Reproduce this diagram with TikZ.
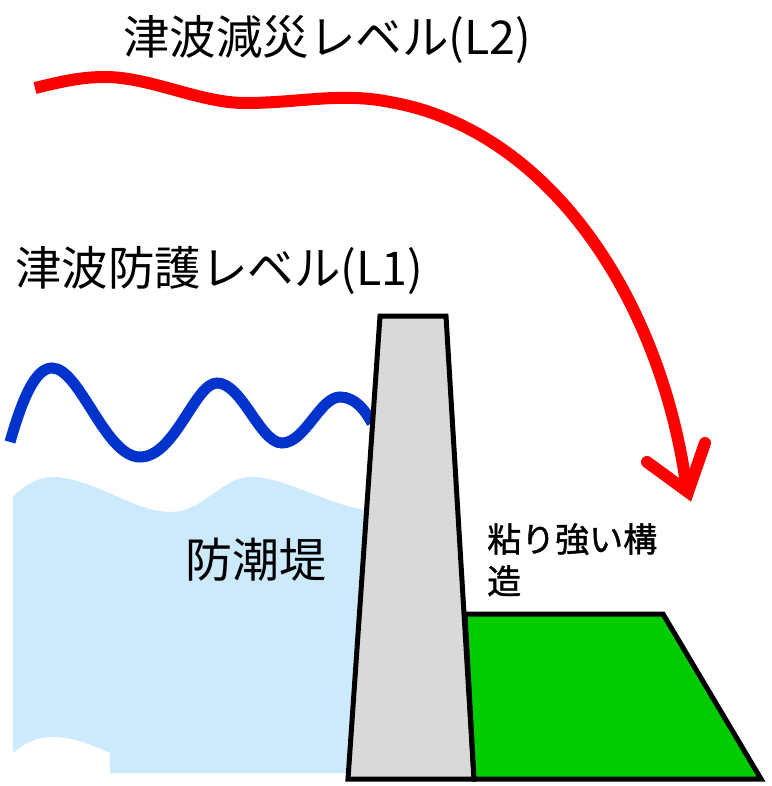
\documentclass[tikz,border=0pt]{standalone}
\usepackage{fontspec}
\usepackage{xcolor}
\usepackage{tikz}
\newfontfamily\jp{Noto Sans CJK JP}
\newfontfamily\jpmid[FakeBold=1.2]{Noto Sans CJK JP}
\definecolor{seablue}{RGB}{204,234,252}
\definecolor{wavblue}{RGB}{0,51,204}
\definecolor{wallgray}{RGB}{217,217,217}
\definecolor{landgreen}{RGB}{0,204,0}
\tikzset{lbl/.style={inner sep=0pt,anchor=base west,font=\jp\fontsize{46.5}{46.5}\selectfont},
         blk/.style={draw=black,line width=5pt,line join=miter}}

\begin{document}
\begin{tikzpicture}[x=1pt,y=-1pt]
        \useasboundingbox (0,0) rectangle (771,786);
        % sea
        \fill[seablue] (13,497) .. controls (25,484) and (38,477) .. (55,477)
            .. controls (95,479) and (135,512) .. (170,512)
            .. controls (205,512) and (220,477) .. (252,477)
            .. controls (290,478) and (330,508) .. (380,512)
            -- (380,773) -- (110,773) -- (110,753)
            .. controls (90,744) and (72,737) .. (53,737)
            .. controls (35,737) and (22,745) .. (13,753) -- cycle;
        % L1 wave
        \draw[wavblue,line width=11pt] (10,442) .. controls (22,400) and (35,368) .. (52,368)
            .. controls (80,368) and (105,457) .. (140,457)
            .. controls (175,457) and (195,383) .. (217,383)
            .. controls (242,383) and (260,443) .. (282,443)
            .. controls (305,443) and (320,397) .. (340,397)
            .. controls (355,397) and (365,410) .. (372,423);
        % L2 wave
        \draw[red,line width=12pt] (35,88) .. controls (60,82) and (80,77) .. (105,77)
            .. controls (150,77) and (200,103) .. (245,103)
            .. controls (300,103) and (340,92) .. (390,102)
            .. controls (550,130) and (660,300) .. (686,484);
        \draw[red,line width=12pt,line cap=round,line join=miter] (647,462) -- (688,492) -- (705,443);
        % structures
        \draw[blk,fill=wallgray] (380,316) -- (446,316) -- (474,779) -- (348,779) -- cycle;
        \draw[blk,fill=landgreen] (465,614) -- (663,614) -- (761,779) -- (474,779) -- cycle;
        % labels
        \node[lbl] (l2) at (123,55) {津波減災レベル(L2)};
        \node[lbl] (l1) at (15,285) {津波防護レベル(L1)};
        \node[lbl,font=\jp\fontsize{47}{47}\selectfont] (dike) at (185,577) {防潮堤};
        \node[lbl,anchor=north west,align=left,font=\jpmid\fontsize{34}{42}\selectfont] (tough) at (487,523) {粘り強い構\\造};
\end{tikzpicture}
\end{document}
